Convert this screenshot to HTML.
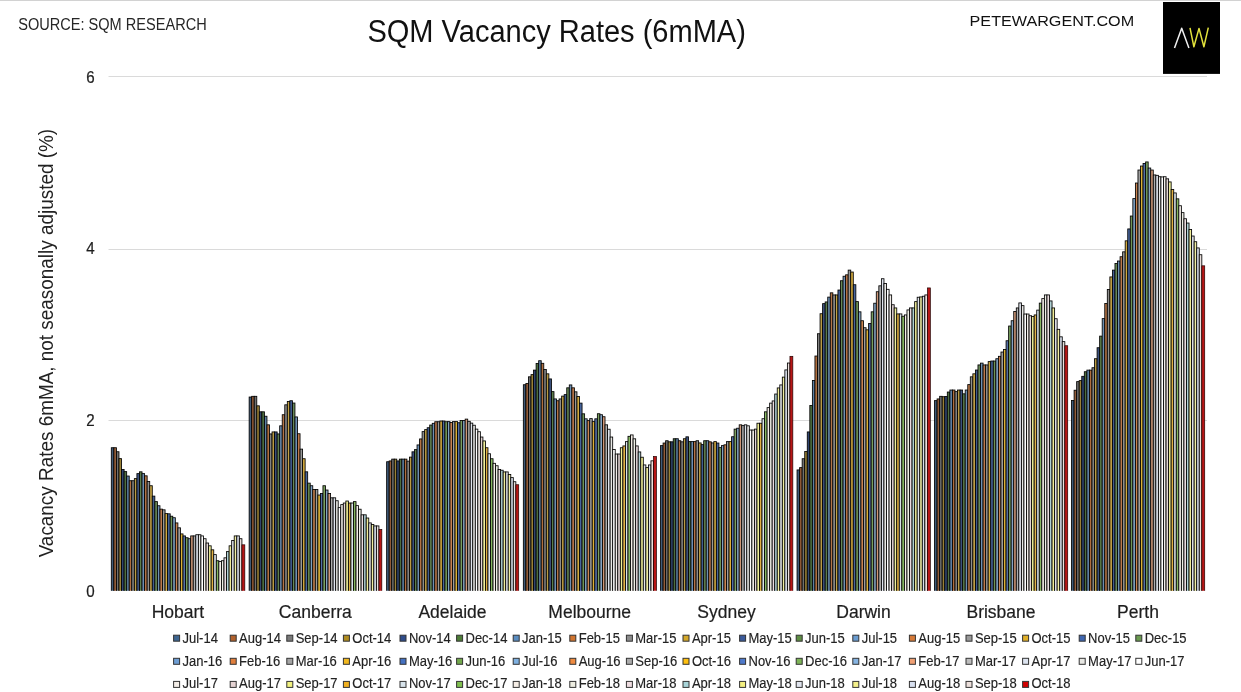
<!DOCTYPE html>
<html><head><meta charset="utf-8"><title>SQM Vacancy Rates (6mMA)</title>
<style>html,body{margin:0;padding:0;background:#fff;overflow:hidden;}svg{display:block;will-change:transform;}text{font-family:"Liberation Sans",Arial,sans-serif;}</style></head><body>
<svg width="1241" height="692" viewBox="0 0 1241 692">
<rect x="0" y="0" width="1241" height="692" fill="#fff"/>
<rect x="0" y="0" width="1241" height="1" fill="#d2d2d2"/>
<text id="t_source" x="18.20" y="29.70" font-size="15.6" fill="#262626" textLength="188.50" lengthAdjust="spacingAndGlyphs">SOURCE: SQM RESEARCH</text>
<text id="t_title" x="367.40" y="41.70" font-size="30.6" fill="#111" textLength="378.50" lengthAdjust="spacingAndGlyphs">SQM Vacancy Rates (6mMA)</text>
<text id="t_pete" x="969.60" y="25.70" font-size="15.4" fill="#111" textLength="164.50" lengthAdjust="spacingAndGlyphs">PETEWARGENT.COM</text>
<rect x="1163" y="2" width="57" height="71.9" fill="#000"/>
<polyline points="1174.5,47.9 1181.7,28.2 1188.9,47.9" fill="none" stroke="#f0f0f0" stroke-width="1.5" stroke-linejoin="round"/>
<polyline points="1190.0,27.8 1193.9,46.8 1199.0,28.4 1203.9,46.8 1208.3,27.7" fill="none" stroke="#e2e23c" stroke-width="1.5" stroke-linejoin="round"/>
<rect x="108.5" y="76" width="1098.5" height="1" fill="#dadada"/>
<rect x="108.5" y="249" width="1098.5" height="1" fill="#dadada"/>
<rect x="108.5" y="420" width="1098.5" height="1" fill="#dadada"/>
<text transform="translate(90.4,83.1) scale(0.88,1)" font-size="17.2" fill="#1e1e1e" stroke="#1e1e1e" stroke-width="0.25" text-anchor="middle">6</text>
<text transform="translate(90.4,254.3) scale(0.88,1)" font-size="17.2" fill="#1e1e1e" stroke="#1e1e1e" stroke-width="0.25" text-anchor="middle">4</text>
<text transform="translate(90.4,425.7) scale(0.88,1)" font-size="17.2" fill="#1e1e1e" stroke="#1e1e1e" stroke-width="0.25" text-anchor="middle">2</text>
<text transform="translate(90.4,596.9) scale(0.88,1)" font-size="17.2" fill="#1e1e1e" stroke="#1e1e1e" stroke-width="0.25" text-anchor="middle">0</text>
<text id="t_ytitle" transform="translate(53.10,343.10) rotate(-90)" font-size="19.4" fill="#222" text-anchor="middle" textLength="428.50" lengthAdjust="spacingAndGlyphs">Vacancy Rates 6mMA, not seasonally adjusted (%)</text>
<defs><clipPath id="cb"><rect x="0" y="0" width="1241" height="590.8"/></clipPath></defs>
<g stroke="#000" stroke-width="0.85" clip-path="url(#cb)">
<rect x="111.30" y="447.73" width="2.56" height="146.27" fill="#405b79"/>
<rect x="113.86" y="447.73" width="2.56" height="146.27" fill="#935c38"/>
<rect x="116.42" y="451.73" width="2.56" height="142.27" fill="#707070"/>
<rect x="118.98" y="458.62" width="2.56" height="135.38" fill="#9a8136"/>
<rect x="121.54" y="469.53" width="2.56" height="124.47" fill="#314670"/>
<rect x="124.11" y="471.62" width="2.56" height="122.38" fill="#4d6e3f"/>
<rect x="126.67" y="476.03" width="2.56" height="117.97" fill="#5c7fa3"/>
<rect x="129.23" y="480.73" width="2.56" height="113.27" fill="#af6f3f"/>
<rect x="131.79" y="480.73" width="2.56" height="113.27" fill="#818181"/>
<rect x="134.35" y="478.62" width="2.56" height="115.38" fill="#b99b43"/>
<rect x="136.91" y="473.62" width="2.56" height="120.38" fill="#3c527e"/>
<rect x="139.47" y="471.82" width="2.56" height="122.18" fill="#5c7d4b"/>
<rect x="142.03" y="473.62" width="2.56" height="120.38" fill="#6b8eb2"/>
<rect x="144.59" y="475.82" width="2.56" height="118.18" fill="#b47547"/>
<rect x="147.15" y="481.43" width="2.56" height="112.58" fill="#8d8d8d"/>
<rect x="149.72" y="485.73" width="2.56" height="108.27" fill="#c3a245"/>
<rect x="152.28" y="496.12" width="2.56" height="97.88" fill="#425d90"/>
<rect x="154.84" y="501.62" width="2.56" height="92.38" fill="#678856"/>
<rect x="157.40" y="505.73" width="2.56" height="88.27" fill="#6e90b4"/>
<rect x="159.96" y="509.12" width="2.56" height="84.88" fill="#bd794b"/>
<rect x="162.52" y="509.82" width="2.56" height="84.18" fill="#989898"/>
<rect x="165.08" y="513.62" width="2.56" height="80.37" fill="#d1a93f"/>
<rect x="167.64" y="513.82" width="2.56" height="80.18" fill="#48669d"/>
<rect x="170.20" y="516.22" width="2.56" height="77.78" fill="#6f9455"/>
<rect x="172.77" y="517.72" width="2.56" height="76.28" fill="#7da0c1"/>
<rect x="175.33" y="522.92" width="2.56" height="71.08" fill="#c98451"/>
<rect x="177.89" y="527.82" width="2.56" height="66.18" fill="#9d9d9d"/>
<rect x="180.45" y="533.92" width="2.56" height="60.08" fill="#dcb137"/>
<rect x="183.01" y="535.92" width="2.56" height="58.08" fill="#526fa7"/>
<rect x="185.57" y="537.72" width="2.56" height="56.28" fill="#799f5f"/>
<rect x="188.13" y="538.72" width="2.56" height="55.28" fill="#84a4c3"/>
<rect x="190.69" y="535.92" width="2.56" height="58.08" fill="#cf9879"/>
<rect x="193.25" y="535.92" width="2.56" height="58.08" fill="#aeaeae"/>
<rect x="195.81" y="534.72" width="2.56" height="59.28" fill="#dfe4ed"/>
<rect x="198.38" y="534.72" width="2.56" height="59.28" fill="#e8e8e5"/>
<rect x="200.94" y="535.92" width="2.56" height="58.08" fill="#ffffff"/>
<rect x="203.50" y="538.72" width="2.56" height="55.28" fill="#f3eeea"/>
<rect x="206.06" y="543.02" width="2.56" height="50.97" fill="#e3d5d5"/>
<rect x="208.62" y="545.82" width="2.56" height="48.18" fill="#efef99"/>
<rect x="211.18" y="549.82" width="2.56" height="44.18" fill="#e1b145"/>
<rect x="213.74" y="554.62" width="2.56" height="39.37" fill="#dae3e9"/>
<rect x="216.30" y="560.72" width="2.56" height="33.28" fill="#88b864"/>
<rect x="218.86" y="561.42" width="2.56" height="32.58" fill="#f4eee8"/>
<rect x="221.43" y="560.72" width="2.56" height="33.28" fill="#eeeee5"/>
<rect x="223.99" y="557.82" width="2.56" height="36.18" fill="#ebdde0"/>
<rect x="226.55" y="551.62" width="2.56" height="42.37" fill="#b0d1d4"/>
<rect x="229.11" y="545.82" width="2.56" height="48.18" fill="#f0ed99"/>
<rect x="231.67" y="540.42" width="2.56" height="53.58" fill="#e1e4eb"/>
<rect x="234.23" y="535.92" width="2.56" height="58.08" fill="#f0eda1"/>
<rect x="236.79" y="535.92" width="2.56" height="58.08" fill="#dae0ec"/>
<rect x="239.35" y="538.72" width="2.56" height="55.28" fill="#ebe1de"/>
<rect x="241.91" y="544.82" width="2.91" height="49.18" fill="#b81616" stroke="#200000" stroke-width="0.7"/>
<rect x="249.15" y="397.03" width="2.54" height="196.97" fill="#405b79"/>
<rect x="251.69" y="396.32" width="2.54" height="197.68" fill="#935c38"/>
<rect x="254.24" y="396.32" width="2.54" height="197.68" fill="#707070"/>
<rect x="256.78" y="405.82" width="2.54" height="188.18" fill="#9a8136"/>
<rect x="259.33" y="411.82" width="2.54" height="182.18" fill="#314670"/>
<rect x="261.87" y="411.82" width="2.54" height="182.18" fill="#4d6e3f"/>
<rect x="264.42" y="416.23" width="2.54" height="177.77" fill="#5c7fa3"/>
<rect x="266.96" y="424.82" width="2.54" height="169.18" fill="#af6f3f"/>
<rect x="269.51" y="433.93" width="2.54" height="160.07" fill="#818181"/>
<rect x="272.05" y="431.93" width="2.54" height="162.07" fill="#b99b43"/>
<rect x="274.60" y="431.93" width="2.54" height="162.07" fill="#3c527e"/>
<rect x="277.14" y="433.93" width="2.54" height="160.07" fill="#5c7d4b"/>
<rect x="279.69" y="425.82" width="2.54" height="168.18" fill="#6b8eb2"/>
<rect x="282.23" y="414.73" width="2.54" height="179.27" fill="#b47547"/>
<rect x="284.78" y="404.82" width="2.54" height="189.18" fill="#8d8d8d"/>
<rect x="287.32" y="401.53" width="2.54" height="192.47" fill="#c3a245"/>
<rect x="289.87" y="400.73" width="2.54" height="193.27" fill="#425d90"/>
<rect x="292.41" y="403.03" width="2.54" height="190.97" fill="#678856"/>
<rect x="294.95" y="416.93" width="2.54" height="177.07" fill="#6e90b4"/>
<rect x="297.50" y="433.73" width="2.54" height="160.27" fill="#bd794b"/>
<rect x="300.04" y="449.12" width="2.54" height="144.88" fill="#989898"/>
<rect x="302.59" y="458.73" width="2.54" height="135.27" fill="#d1a93f"/>
<rect x="305.13" y="471.82" width="2.54" height="122.18" fill="#48669d"/>
<rect x="307.68" y="483.12" width="2.54" height="110.88" fill="#6f9455"/>
<rect x="310.22" y="485.73" width="2.54" height="108.27" fill="#7da0c1"/>
<rect x="312.77" y="489.53" width="2.54" height="104.47" fill="#c98451"/>
<rect x="315.31" y="489.53" width="2.54" height="104.47" fill="#9d9d9d"/>
<rect x="317.86" y="495.03" width="2.54" height="98.97" fill="#dcb137"/>
<rect x="320.40" y="493.53" width="2.54" height="100.47" fill="#526fa7"/>
<rect x="322.95" y="485.73" width="2.54" height="108.27" fill="#799f5f"/>
<rect x="325.49" y="490.03" width="2.54" height="103.97" fill="#84a4c3"/>
<rect x="328.04" y="493.53" width="2.54" height="100.47" fill="#cf9879"/>
<rect x="330.58" y="497.82" width="2.54" height="96.18" fill="#aeaeae"/>
<rect x="333.13" y="497.82" width="2.54" height="96.18" fill="#dfe4ed"/>
<rect x="335.67" y="500.73" width="2.54" height="93.27" fill="#e8e8e5"/>
<rect x="338.21" y="507.62" width="2.54" height="86.38" fill="#ffffff"/>
<rect x="340.76" y="504.62" width="2.54" height="89.38" fill="#f3eeea"/>
<rect x="343.30" y="503.03" width="2.54" height="90.97" fill="#e3d5d5"/>
<rect x="345.85" y="501.03" width="2.54" height="92.97" fill="#efef99"/>
<rect x="348.39" y="503.03" width="2.54" height="90.97" fill="#e1b145"/>
<rect x="350.94" y="503.03" width="2.54" height="90.97" fill="#dae3e9"/>
<rect x="353.48" y="501.62" width="2.54" height="92.38" fill="#88b864"/>
<rect x="356.03" y="505.62" width="2.54" height="88.38" fill="#f4eee8"/>
<rect x="358.57" y="509.23" width="2.54" height="84.77" fill="#eeeee5"/>
<rect x="361.12" y="514.82" width="2.54" height="79.18" fill="#ebdde0"/>
<rect x="363.66" y="514.82" width="2.54" height="79.18" fill="#b0d1d4"/>
<rect x="366.21" y="518.02" width="2.54" height="75.97" fill="#f0ed99"/>
<rect x="368.75" y="522.92" width="2.54" height="71.08" fill="#e1e4eb"/>
<rect x="371.30" y="524.42" width="2.54" height="69.58" fill="#f0eda1"/>
<rect x="373.84" y="525.92" width="2.54" height="68.08" fill="#dae0ec"/>
<rect x="376.39" y="525.92" width="2.54" height="68.08" fill="#ebe1de"/>
<rect x="378.93" y="529.52" width="2.89" height="64.47" fill="#b81616" stroke="#200000" stroke-width="0.7"/>
<rect x="386.65" y="461.73" width="2.53" height="132.27" fill="#405b79"/>
<rect x="389.18" y="460.93" width="2.53" height="133.07" fill="#935c38"/>
<rect x="391.72" y="459.12" width="2.53" height="134.88" fill="#707070"/>
<rect x="394.25" y="459.12" width="2.53" height="134.88" fill="#9a8136"/>
<rect x="396.78" y="460.93" width="2.53" height="133.07" fill="#314670"/>
<rect x="399.32" y="459.12" width="2.53" height="134.88" fill="#4d6e3f"/>
<rect x="401.85" y="459.12" width="2.53" height="134.88" fill="#5c7fa3"/>
<rect x="404.38" y="459.12" width="2.53" height="134.88" fill="#af6f3f"/>
<rect x="406.92" y="461.12" width="2.53" height="132.88" fill="#818181"/>
<rect x="409.45" y="457.12" width="2.53" height="136.88" fill="#b99b43"/>
<rect x="411.98" y="451.82" width="2.53" height="142.18" fill="#3c527e"/>
<rect x="414.51" y="449.62" width="2.53" height="144.38" fill="#5c7d4b"/>
<rect x="417.05" y="444.93" width="2.53" height="149.07" fill="#6b8eb2"/>
<rect x="419.58" y="438.93" width="2.53" height="155.07" fill="#b47547"/>
<rect x="422.11" y="431.62" width="2.53" height="162.38" fill="#8d8d8d"/>
<rect x="424.65" y="429.62" width="2.53" height="164.38" fill="#c3a245"/>
<rect x="427.18" y="427.73" width="2.53" height="166.27" fill="#425d90"/>
<rect x="429.71" y="425.03" width="2.53" height="168.97" fill="#678856"/>
<rect x="432.25" y="423.32" width="2.53" height="170.68" fill="#6e90b4"/>
<rect x="434.78" y="421.73" width="2.53" height="172.27" fill="#bd794b"/>
<rect x="437.31" y="421.73" width="2.53" height="172.27" fill="#989898"/>
<rect x="439.85" y="421.03" width="2.53" height="172.97" fill="#d1a93f"/>
<rect x="442.38" y="421.03" width="2.53" height="172.97" fill="#48669d"/>
<rect x="444.91" y="421.73" width="2.53" height="172.27" fill="#6f9455"/>
<rect x="447.45" y="421.62" width="2.53" height="172.38" fill="#7da0c1"/>
<rect x="449.98" y="422.43" width="2.53" height="171.57" fill="#c98451"/>
<rect x="452.51" y="421.62" width="2.53" height="172.38" fill="#9d9d9d"/>
<rect x="455.05" y="421.62" width="2.53" height="172.38" fill="#dcb137"/>
<rect x="457.58" y="422.73" width="2.53" height="171.27" fill="#526fa7"/>
<rect x="460.11" y="420.53" width="2.53" height="173.47" fill="#799f5f"/>
<rect x="462.65" y="420.53" width="2.53" height="173.47" fill="#84a4c3"/>
<rect x="465.18" y="419.12" width="2.53" height="174.88" fill="#cf9879"/>
<rect x="467.71" y="421.32" width="2.53" height="172.68" fill="#aeaeae"/>
<rect x="470.24" y="423.12" width="2.53" height="170.88" fill="#dfe4ed"/>
<rect x="472.78" y="425.23" width="2.53" height="168.77" fill="#e8e8e5"/>
<rect x="475.31" y="429.12" width="2.53" height="164.88" fill="#ffffff"/>
<rect x="477.84" y="431.73" width="2.53" height="162.27" fill="#f3eeea"/>
<rect x="480.38" y="437.03" width="2.53" height="156.97" fill="#e3d5d5"/>
<rect x="482.91" y="440.93" width="2.53" height="153.07" fill="#efef99"/>
<rect x="485.44" y="447.73" width="2.53" height="146.27" fill="#e1b145"/>
<rect x="487.98" y="453.73" width="2.53" height="140.27" fill="#dae3e9"/>
<rect x="490.51" y="458.73" width="2.53" height="135.27" fill="#88b864"/>
<rect x="493.04" y="463.32" width="2.53" height="130.68" fill="#f4eee8"/>
<rect x="495.58" y="465.73" width="2.53" height="128.27" fill="#eeeee5"/>
<rect x="498.11" y="469.43" width="2.53" height="124.58" fill="#ebdde0"/>
<rect x="500.64" y="470.23" width="2.53" height="123.77" fill="#b0d1d4"/>
<rect x="503.18" y="471.93" width="2.53" height="122.08" fill="#f0ed99"/>
<rect x="505.71" y="471.93" width="2.53" height="122.08" fill="#e1e4eb"/>
<rect x="508.24" y="474.53" width="2.53" height="119.47" fill="#f0eda1"/>
<rect x="510.78" y="477.62" width="2.53" height="116.38" fill="#dae0ec"/>
<rect x="513.31" y="481.73" width="2.53" height="112.27" fill="#ebe1de"/>
<rect x="515.84" y="484.73" width="2.88" height="109.27" fill="#b81616" stroke="#200000" stroke-width="0.7"/>
<rect x="523.35" y="384.73" width="2.55" height="209.27" fill="#405b79"/>
<rect x="525.90" y="383.53" width="2.55" height="210.47" fill="#935c38"/>
<rect x="528.45" y="376.82" width="2.55" height="217.18" fill="#707070"/>
<rect x="531.01" y="374.62" width="2.55" height="219.38" fill="#9a8136"/>
<rect x="533.56" y="370.12" width="2.55" height="223.88" fill="#314670"/>
<rect x="536.11" y="363.53" width="2.55" height="230.47" fill="#4d6e3f"/>
<rect x="538.66" y="360.73" width="2.55" height="233.27" fill="#5c7fa3"/>
<rect x="541.22" y="363.32" width="2.55" height="230.68" fill="#af6f3f"/>
<rect x="543.77" y="369.43" width="2.55" height="224.57" fill="#818181"/>
<rect x="546.32" y="373.82" width="2.55" height="220.18" fill="#b99b43"/>
<rect x="548.87" y="378.93" width="2.55" height="215.07" fill="#3c527e"/>
<rect x="551.43" y="391.62" width="2.55" height="202.38" fill="#5c7d4b"/>
<rect x="553.98" y="398.93" width="2.55" height="195.07" fill="#6b8eb2"/>
<rect x="556.53" y="400.73" width="2.55" height="193.27" fill="#b47547"/>
<rect x="559.08" y="398.93" width="2.55" height="195.07" fill="#8d8d8d"/>
<rect x="561.64" y="396.12" width="2.55" height="197.88" fill="#c3a245"/>
<rect x="564.19" y="394.62" width="2.55" height="199.38" fill="#425d90"/>
<rect x="566.74" y="387.82" width="2.55" height="206.18" fill="#678856"/>
<rect x="569.29" y="384.93" width="2.55" height="209.07" fill="#6e90b4"/>
<rect x="571.85" y="387.82" width="2.55" height="206.18" fill="#bd794b"/>
<rect x="574.40" y="391.82" width="2.55" height="202.18" fill="#989898"/>
<rect x="576.95" y="396.43" width="2.55" height="197.57" fill="#d1a93f"/>
<rect x="579.50" y="403.12" width="2.55" height="190.88" fill="#48669d"/>
<rect x="582.06" y="413.82" width="2.55" height="180.18" fill="#6f9455"/>
<rect x="584.61" y="418.82" width="2.55" height="175.18" fill="#7da0c1"/>
<rect x="587.16" y="420.62" width="2.55" height="173.38" fill="#c98451"/>
<rect x="589.71" y="418.62" width="2.55" height="175.38" fill="#9d9d9d"/>
<rect x="592.26" y="421.62" width="2.55" height="172.38" fill="#dcb137"/>
<rect x="594.82" y="418.82" width="2.55" height="175.18" fill="#526fa7"/>
<rect x="597.37" y="413.73" width="2.55" height="180.27" fill="#799f5f"/>
<rect x="599.92" y="414.73" width="2.55" height="179.27" fill="#84a4c3"/>
<rect x="602.47" y="416.73" width="2.55" height="177.27" fill="#cf9879"/>
<rect x="605.03" y="424.82" width="2.55" height="169.18" fill="#aeaeae"/>
<rect x="607.58" y="429.23" width="2.55" height="164.77" fill="#dfe4ed"/>
<rect x="610.13" y="437.03" width="2.55" height="156.97" fill="#e8e8e5"/>
<rect x="612.68" y="449.43" width="2.55" height="144.57" fill="#ffffff"/>
<rect x="615.24" y="454.03" width="2.55" height="139.97" fill="#f3eeea"/>
<rect x="617.79" y="454.03" width="2.55" height="139.97" fill="#e3d5d5"/>
<rect x="620.34" y="447.73" width="2.55" height="146.27" fill="#efef99"/>
<rect x="622.89" y="445.93" width="2.55" height="148.07" fill="#e1b145"/>
<rect x="625.45" y="441.62" width="2.55" height="152.38" fill="#dae3e9"/>
<rect x="628.00" y="436.32" width="2.55" height="157.68" fill="#88b864"/>
<rect x="630.55" y="434.93" width="2.55" height="159.07" fill="#f4eee8"/>
<rect x="633.10" y="438.82" width="2.55" height="155.18" fill="#eeeee5"/>
<rect x="635.66" y="445.93" width="2.55" height="148.07" fill="#ebdde0"/>
<rect x="638.21" y="451.93" width="2.55" height="142.07" fill="#b0d1d4"/>
<rect x="640.76" y="457.23" width="2.55" height="136.77" fill="#f0ed99"/>
<rect x="643.31" y="464.93" width="2.55" height="129.07" fill="#e1e4eb"/>
<rect x="645.87" y="467.62" width="2.55" height="126.38" fill="#f0eda1"/>
<rect x="648.42" y="464.93" width="2.55" height="129.07" fill="#dae0ec"/>
<rect x="650.97" y="460.82" width="2.55" height="133.18" fill="#ebe1de"/>
<rect x="653.52" y="456.53" width="2.90" height="137.47" fill="#b81616" stroke="#200000" stroke-width="0.7"/>
<rect x="660.55" y="445.62" width="2.54" height="148.38" fill="#405b79"/>
<rect x="663.09" y="443.03" width="2.54" height="150.97" fill="#935c38"/>
<rect x="665.62" y="440.73" width="2.54" height="153.27" fill="#707070"/>
<rect x="668.16" y="441.82" width="2.54" height="152.18" fill="#9a8136"/>
<rect x="670.70" y="441.82" width="2.54" height="152.18" fill="#314670"/>
<rect x="673.24" y="438.73" width="2.54" height="155.27" fill="#4d6e3f"/>
<rect x="675.77" y="438.73" width="2.54" height="155.27" fill="#5c7fa3"/>
<rect x="678.31" y="440.73" width="2.54" height="153.27" fill="#af6f3f"/>
<rect x="680.85" y="441.82" width="2.54" height="152.18" fill="#818181"/>
<rect x="683.38" y="438.73" width="2.54" height="155.27" fill="#b99b43"/>
<rect x="685.92" y="436.82" width="2.54" height="157.18" fill="#3c527e"/>
<rect x="688.46" y="441.62" width="2.54" height="152.38" fill="#5c7d4b"/>
<rect x="690.99" y="441.62" width="2.54" height="152.38" fill="#6b8eb2"/>
<rect x="693.53" y="441.62" width="2.54" height="152.38" fill="#b47547"/>
<rect x="696.07" y="440.73" width="2.54" height="153.27" fill="#8d8d8d"/>
<rect x="698.61" y="442.93" width="2.54" height="151.07" fill="#c3a245"/>
<rect x="701.14" y="444.62" width="2.54" height="149.38" fill="#425d90"/>
<rect x="703.68" y="440.73" width="2.54" height="153.27" fill="#678856"/>
<rect x="706.22" y="440.73" width="2.54" height="153.27" fill="#6e90b4"/>
<rect x="708.75" y="441.82" width="2.54" height="152.18" fill="#bd794b"/>
<rect x="711.29" y="442.93" width="2.54" height="151.07" fill="#989898"/>
<rect x="713.83" y="441.62" width="2.54" height="152.38" fill="#d1a93f"/>
<rect x="716.36" y="443.03" width="2.54" height="150.97" fill="#48669d"/>
<rect x="718.90" y="447.62" width="2.54" height="146.38" fill="#6f9455"/>
<rect x="721.44" y="445.62" width="2.54" height="148.38" fill="#7da0c1"/>
<rect x="723.98" y="444.82" width="2.54" height="149.18" fill="#c98451"/>
<rect x="726.51" y="441.62" width="2.54" height="152.38" fill="#9d9d9d"/>
<rect x="729.05" y="441.62" width="2.54" height="152.38" fill="#dcb137"/>
<rect x="731.59" y="436.73" width="2.54" height="157.27" fill="#526fa7"/>
<rect x="734.12" y="429.12" width="2.54" height="164.88" fill="#799f5f"/>
<rect x="736.66" y="428.23" width="2.54" height="165.77" fill="#84a4c3"/>
<rect x="739.20" y="424.82" width="2.54" height="169.18" fill="#cf9879"/>
<rect x="741.73" y="425.62" width="2.54" height="168.38" fill="#aeaeae"/>
<rect x="744.27" y="424.82" width="2.54" height="169.18" fill="#dfe4ed"/>
<rect x="746.81" y="425.82" width="2.54" height="168.18" fill="#e8e8e5"/>
<rect x="749.35" y="430.03" width="2.54" height="163.97" fill="#ffffff"/>
<rect x="751.88" y="430.03" width="2.54" height="163.97" fill="#f3eeea"/>
<rect x="754.42" y="429.12" width="2.54" height="164.88" fill="#e3d5d5"/>
<rect x="756.96" y="423.23" width="2.54" height="170.77" fill="#efef99"/>
<rect x="759.49" y="423.23" width="2.54" height="170.77" fill="#e1b145"/>
<rect x="762.03" y="418.73" width="2.54" height="175.27" fill="#dae3e9"/>
<rect x="764.57" y="411.82" width="2.54" height="182.18" fill="#88b864"/>
<rect x="767.10" y="407.62" width="2.54" height="186.38" fill="#f4eee8"/>
<rect x="769.64" y="403.12" width="2.54" height="190.88" fill="#eeeee5"/>
<rect x="772.18" y="400.93" width="2.54" height="193.07" fill="#ebdde0"/>
<rect x="774.72" y="394.03" width="2.54" height="199.97" fill="#b0d1d4"/>
<rect x="777.25" y="387.93" width="2.54" height="206.07" fill="#f0ed99"/>
<rect x="779.79" y="384.93" width="2.54" height="209.07" fill="#e1e4eb"/>
<rect x="782.33" y="377.12" width="2.54" height="216.88" fill="#f0eda1"/>
<rect x="784.86" y="369.93" width="2.54" height="224.07" fill="#dae0ec"/>
<rect x="787.40" y="363.03" width="2.54" height="230.97" fill="#ebe1de"/>
<rect x="789.94" y="356.32" width="2.89" height="237.68" fill="#b81616" stroke="#200000" stroke-width="0.7"/>
<rect x="797.05" y="469.93" width="2.56" height="124.08" fill="#405b79"/>
<rect x="799.61" y="467.62" width="2.56" height="126.38" fill="#935c38"/>
<rect x="802.16" y="458.73" width="2.56" height="135.27" fill="#707070"/>
<rect x="804.72" y="451.53" width="2.56" height="142.47" fill="#9a8136"/>
<rect x="807.28" y="431.93" width="2.56" height="162.07" fill="#314670"/>
<rect x="809.83" y="405.53" width="2.56" height="188.47" fill="#4d6e3f"/>
<rect x="812.39" y="380.43" width="2.56" height="213.57" fill="#5c7fa3"/>
<rect x="814.94" y="356.03" width="2.56" height="237.97" fill="#af6f3f"/>
<rect x="817.50" y="333.73" width="2.56" height="260.27" fill="#818181"/>
<rect x="820.06" y="313.73" width="2.56" height="280.27" fill="#b99b43"/>
<rect x="822.61" y="303.62" width="2.56" height="290.38" fill="#3c527e"/>
<rect x="825.17" y="301.93" width="2.56" height="292.07" fill="#5c7d4b"/>
<rect x="827.73" y="297.12" width="2.56" height="296.88" fill="#6b8eb2"/>
<rect x="830.28" y="292.82" width="2.56" height="301.18" fill="#b47547"/>
<rect x="832.84" y="294.93" width="2.56" height="299.07" fill="#8d8d8d"/>
<rect x="835.39" y="294.93" width="2.56" height="299.07" fill="#c3a245"/>
<rect x="837.95" y="290.03" width="2.56" height="303.97" fill="#425d90"/>
<rect x="840.51" y="280.73" width="2.56" height="313.27" fill="#678856"/>
<rect x="843.06" y="276.23" width="2.56" height="317.77" fill="#6e90b4"/>
<rect x="845.62" y="274.82" width="2.56" height="319.18" fill="#bd794b"/>
<rect x="848.18" y="270.12" width="2.56" height="323.88" fill="#989898"/>
<rect x="850.73" y="272.03" width="2.56" height="321.97" fill="#d1a93f"/>
<rect x="853.29" y="284.73" width="2.56" height="309.27" fill="#48669d"/>
<rect x="855.84" y="301.62" width="2.56" height="292.38" fill="#6f9455"/>
<rect x="858.40" y="311.82" width="2.56" height="282.18" fill="#7da0c1"/>
<rect x="860.96" y="320.73" width="2.56" height="273.27" fill="#c98451"/>
<rect x="863.51" y="327.73" width="2.56" height="266.27" fill="#9d9d9d"/>
<rect x="866.07" y="329.82" width="2.56" height="264.18" fill="#dcb137"/>
<rect x="868.62" y="323.43" width="2.56" height="270.57" fill="#526fa7"/>
<rect x="871.18" y="311.82" width="2.56" height="282.18" fill="#799f5f"/>
<rect x="873.74" y="303.23" width="2.56" height="290.77" fill="#84a4c3"/>
<rect x="876.29" y="291.73" width="2.56" height="302.27" fill="#cf9879"/>
<rect x="878.85" y="285.82" width="2.56" height="308.18" fill="#aeaeae"/>
<rect x="881.41" y="278.73" width="2.56" height="315.27" fill="#dfe4ed"/>
<rect x="883.96" y="283.43" width="2.56" height="310.57" fill="#e8e8e5"/>
<rect x="886.52" y="289.32" width="2.56" height="304.68" fill="#ffffff"/>
<rect x="889.08" y="294.93" width="2.56" height="299.07" fill="#f3eeea"/>
<rect x="891.63" y="304.73" width="2.56" height="289.27" fill="#e3d5d5"/>
<rect x="894.19" y="307.93" width="2.56" height="286.07" fill="#efef99"/>
<rect x="896.74" y="313.93" width="2.56" height="280.07" fill="#e1b145"/>
<rect x="899.30" y="313.93" width="2.56" height="280.07" fill="#dae3e9"/>
<rect x="901.86" y="316.23" width="2.56" height="277.77" fill="#88b864"/>
<rect x="904.41" y="314.93" width="2.56" height="279.07" fill="#f4eee8"/>
<rect x="906.97" y="309.93" width="2.56" height="284.07" fill="#eeeee5"/>
<rect x="909.52" y="307.93" width="2.56" height="286.07" fill="#ebdde0"/>
<rect x="912.08" y="307.93" width="2.56" height="286.07" fill="#b0d1d4"/>
<rect x="914.64" y="301.62" width="2.56" height="292.38" fill="#f0ed99"/>
<rect x="917.19" y="297.23" width="2.56" height="296.77" fill="#e1e4eb"/>
<rect x="919.75" y="296.93" width="2.56" height="297.07" fill="#f0eda1"/>
<rect x="922.31" y="296.23" width="2.56" height="297.77" fill="#dae0ec"/>
<rect x="924.86" y="294.93" width="2.56" height="299.07" fill="#ebe1de"/>
<rect x="927.42" y="287.93" width="2.91" height="306.07" fill="#b81616" stroke="#200000" stroke-width="0.7"/>
<rect x="934.55" y="400.62" width="2.55" height="193.38" fill="#405b79"/>
<rect x="937.10" y="398.93" width="2.55" height="195.07" fill="#935c38"/>
<rect x="939.66" y="396.32" width="2.55" height="197.68" fill="#707070"/>
<rect x="942.21" y="396.73" width="2.55" height="197.27" fill="#9a8136"/>
<rect x="944.77" y="396.53" width="2.55" height="197.47" fill="#314670"/>
<rect x="947.32" y="392.03" width="2.55" height="201.97" fill="#4d6e3f"/>
<rect x="949.88" y="390.03" width="2.55" height="203.97" fill="#5c7fa3"/>
<rect x="952.43" y="390.03" width="2.55" height="203.97" fill="#af6f3f"/>
<rect x="954.98" y="391.62" width="2.55" height="202.38" fill="#818181"/>
<rect x="957.54" y="390.03" width="2.55" height="203.97" fill="#b99b43"/>
<rect x="960.09" y="390.03" width="2.55" height="203.97" fill="#3c527e"/>
<rect x="962.65" y="393.82" width="2.55" height="200.18" fill="#5c7d4b"/>
<rect x="965.20" y="390.03" width="2.55" height="203.97" fill="#6b8eb2"/>
<rect x="967.76" y="384.62" width="2.55" height="209.38" fill="#b47547"/>
<rect x="970.31" y="376.82" width="2.55" height="217.18" fill="#8d8d8d"/>
<rect x="972.86" y="373.82" width="2.55" height="220.18" fill="#c3a245"/>
<rect x="975.42" y="370.03" width="2.55" height="223.97" fill="#425d90"/>
<rect x="977.97" y="364.93" width="2.55" height="229.07" fill="#678856"/>
<rect x="980.53" y="363.12" width="2.55" height="230.88" fill="#6e90b4"/>
<rect x="983.08" y="364.93" width="2.55" height="229.07" fill="#bd794b"/>
<rect x="985.64" y="364.93" width="2.55" height="229.07" fill="#989898"/>
<rect x="988.19" y="361.62" width="2.55" height="232.38" fill="#d1a93f"/>
<rect x="990.75" y="361.03" width="2.55" height="232.97" fill="#48669d"/>
<rect x="993.30" y="361.03" width="2.55" height="232.97" fill="#6f9455"/>
<rect x="995.85" y="358.73" width="2.55" height="235.27" fill="#7da0c1"/>
<rect x="998.41" y="356.32" width="2.55" height="237.68" fill="#c98451"/>
<rect x="1000.96" y="352.03" width="2.55" height="241.97" fill="#9d9d9d"/>
<rect x="1003.52" y="349.43" width="2.55" height="244.57" fill="#dcb137"/>
<rect x="1006.07" y="340.73" width="2.55" height="253.27" fill="#526fa7"/>
<rect x="1008.63" y="326.03" width="2.55" height="267.97" fill="#799f5f"/>
<rect x="1011.18" y="320.73" width="2.55" height="273.27" fill="#84a4c3"/>
<rect x="1013.73" y="311.53" width="2.55" height="282.47" fill="#cf9879"/>
<rect x="1016.29" y="307.93" width="2.55" height="286.07" fill="#aeaeae"/>
<rect x="1018.84" y="302.93" width="2.55" height="291.07" fill="#dfe4ed"/>
<rect x="1021.40" y="305.62" width="2.55" height="288.38" fill="#e8e8e5"/>
<rect x="1023.95" y="314.03" width="2.55" height="279.97" fill="#ffffff"/>
<rect x="1026.51" y="314.03" width="2.55" height="279.97" fill="#f3eeea"/>
<rect x="1029.06" y="315.73" width="2.55" height="278.27" fill="#e3d5d5"/>
<rect x="1031.61" y="316.43" width="2.55" height="277.57" fill="#efef99"/>
<rect x="1034.17" y="314.93" width="2.55" height="279.07" fill="#e1b145"/>
<rect x="1036.72" y="310.12" width="2.55" height="283.88" fill="#dae3e9"/>
<rect x="1039.28" y="303.12" width="2.55" height="290.88" fill="#88b864"/>
<rect x="1041.83" y="298.62" width="2.55" height="295.38" fill="#f4eee8"/>
<rect x="1044.39" y="294.93" width="2.55" height="299.07" fill="#eeeee5"/>
<rect x="1046.94" y="294.93" width="2.55" height="299.07" fill="#ebdde0"/>
<rect x="1049.49" y="300.93" width="2.55" height="293.07" fill="#b0d1d4"/>
<rect x="1052.05" y="307.93" width="2.55" height="286.07" fill="#f0ed99"/>
<rect x="1054.60" y="318.73" width="2.55" height="275.27" fill="#e1e4eb"/>
<rect x="1057.16" y="329.32" width="2.55" height="264.68" fill="#f0eda1"/>
<rect x="1059.71" y="336.82" width="2.55" height="257.18" fill="#dae0ec"/>
<rect x="1062.27" y="341.62" width="2.55" height="252.38" fill="#ebe1de"/>
<rect x="1064.82" y="345.73" width="2.90" height="248.27" fill="#b81616" stroke="#200000" stroke-width="0.7"/>
<rect x="1071.55" y="400.53" width="2.55" height="193.47" fill="#405b79"/>
<rect x="1074.10" y="390.23" width="2.55" height="203.77" fill="#935c38"/>
<rect x="1076.66" y="381.62" width="2.55" height="212.38" fill="#707070"/>
<rect x="1079.21" y="380.62" width="2.55" height="213.38" fill="#9a8136"/>
<rect x="1081.77" y="376.32" width="2.55" height="217.68" fill="#314670"/>
<rect x="1084.32" y="371.73" width="2.55" height="222.27" fill="#4d6e3f"/>
<rect x="1086.88" y="370.12" width="2.55" height="223.88" fill="#5c7fa3"/>
<rect x="1089.43" y="370.12" width="2.55" height="223.88" fill="#af6f3f"/>
<rect x="1091.98" y="367.73" width="2.55" height="226.27" fill="#818181"/>
<rect x="1094.54" y="358.73" width="2.55" height="235.27" fill="#b99b43"/>
<rect x="1097.09" y="347.73" width="2.55" height="246.27" fill="#3c527e"/>
<rect x="1099.65" y="336.12" width="2.55" height="257.88" fill="#5c7d4b"/>
<rect x="1102.20" y="318.62" width="2.55" height="275.38" fill="#6b8eb2"/>
<rect x="1104.76" y="303.43" width="2.55" height="290.57" fill="#b47547"/>
<rect x="1107.31" y="289.43" width="2.55" height="304.57" fill="#8d8d8d"/>
<rect x="1109.86" y="276.93" width="2.55" height="317.07" fill="#c3a245"/>
<rect x="1112.42" y="270.12" width="2.55" height="323.88" fill="#425d90"/>
<rect x="1114.97" y="263.43" width="2.55" height="330.57" fill="#678856"/>
<rect x="1117.53" y="261.03" width="2.55" height="332.97" fill="#6e90b4"/>
<rect x="1120.08" y="256.73" width="2.55" height="337.27" fill="#bd794b"/>
<rect x="1122.64" y="251.83" width="2.55" height="342.18" fill="#989898"/>
<rect x="1125.19" y="240.83" width="2.55" height="353.18" fill="#d1a93f"/>
<rect x="1127.75" y="228.93" width="2.55" height="365.07" fill="#48669d"/>
<rect x="1130.30" y="216.03" width="2.55" height="377.97" fill="#6f9455"/>
<rect x="1132.85" y="198.62" width="2.55" height="395.38" fill="#7da0c1"/>
<rect x="1135.41" y="183.03" width="2.55" height="410.97" fill="#c98451"/>
<rect x="1137.96" y="170.03" width="2.55" height="423.97" fill="#9d9d9d"/>
<rect x="1140.52" y="166.03" width="2.55" height="427.97" fill="#dcb137"/>
<rect x="1143.07" y="163.43" width="2.55" height="430.57" fill="#526fa7"/>
<rect x="1145.63" y="161.93" width="2.55" height="432.07" fill="#799f5f"/>
<rect x="1148.18" y="168.03" width="2.55" height="425.97" fill="#84a4c3"/>
<rect x="1150.73" y="170.03" width="2.55" height="423.97" fill="#cf9879"/>
<rect x="1153.29" y="174.93" width="2.55" height="419.07" fill="#aeaeae"/>
<rect x="1155.84" y="175.33" width="2.55" height="418.68" fill="#dfe4ed"/>
<rect x="1158.40" y="176.73" width="2.55" height="417.27" fill="#e8e8e5"/>
<rect x="1160.95" y="176.93" width="2.55" height="417.07" fill="#ffffff"/>
<rect x="1163.51" y="176.73" width="2.55" height="417.27" fill="#f3eeea"/>
<rect x="1166.06" y="178.83" width="2.55" height="415.18" fill="#e3d5d5"/>
<rect x="1168.61" y="181.93" width="2.55" height="412.07" fill="#efef99"/>
<rect x="1171.17" y="189.43" width="2.55" height="404.57" fill="#e1b145"/>
<rect x="1173.72" y="192.93" width="2.55" height="401.07" fill="#dae3e9"/>
<rect x="1176.28" y="198.83" width="2.55" height="395.18" fill="#88b864"/>
<rect x="1178.83" y="205.73" width="2.55" height="388.27" fill="#f4eee8"/>
<rect x="1181.39" y="212.62" width="2.55" height="381.38" fill="#eeeee5"/>
<rect x="1183.94" y="218.73" width="2.55" height="375.27" fill="#ebdde0"/>
<rect x="1186.49" y="223.03" width="2.55" height="370.97" fill="#b0d1d4"/>
<rect x="1189.05" y="229.53" width="2.55" height="364.47" fill="#f0ed99"/>
<rect x="1191.60" y="236.03" width="2.55" height="357.97" fill="#e1e4eb"/>
<rect x="1194.16" y="241.73" width="2.55" height="352.27" fill="#f0eda1"/>
<rect x="1196.71" y="247.93" width="2.55" height="346.07" fill="#dae0ec"/>
<rect x="1199.27" y="254.73" width="2.55" height="339.27" fill="#ebe1de"/>
<rect x="1201.82" y="265.82" width="2.90" height="328.18" fill="#b81616" stroke="#200000" stroke-width="0.7"/>
</g>
<text x="177.9" y="617.7" font-size="17.5" fill="#1e1e1e" stroke="#1e1e1e" stroke-width="0.2" text-anchor="middle">Hobart</text>
<text x="315.3" y="617.7" font-size="17.5" fill="#1e1e1e" stroke="#1e1e1e" stroke-width="0.2" text-anchor="middle">Canberra</text>
<text x="452.5" y="617.7" font-size="17.5" fill="#1e1e1e" stroke="#1e1e1e" stroke-width="0.2" text-anchor="middle">Adelaide</text>
<text x="589.7" y="617.7" font-size="17.5" fill="#1e1e1e" stroke="#1e1e1e" stroke-width="0.2" text-anchor="middle">Melbourne</text>
<text x="726.5" y="617.7" font-size="17.5" fill="#1e1e1e" stroke="#1e1e1e" stroke-width="0.2" text-anchor="middle">Sydney</text>
<text x="863.5" y="617.7" font-size="17.5" fill="#1e1e1e" stroke="#1e1e1e" stroke-width="0.2" text-anchor="middle">Darwin</text>
<text x="1001.0" y="617.7" font-size="17.5" fill="#1e1e1e" stroke="#1e1e1e" stroke-width="0.2" text-anchor="middle">Brisbane</text>
<text x="1138.0" y="617.7" font-size="17.5" fill="#1e1e1e" stroke="#1e1e1e" stroke-width="0.2" text-anchor="middle">Perth</text>
<rect x="173.6" y="635.2" width="6" height="6" fill="#3E6590" stroke="#333" stroke-width="1"/>
<text transform="translate(182.5,642.60) scale(1,1.07)" font-size="13" fill="#222" stroke="#222" stroke-width="0.15">Jul-14</text>
<rect x="230.2" y="635.2" width="6" height="6" fill="#B0602C" stroke="#333" stroke-width="1"/>
<text transform="translate(239.1,642.60) scale(1,1.07)" font-size="13" fill="#222" stroke="#222" stroke-width="0.15">Aug-14</text>
<rect x="286.8" y="635.2" width="6" height="6" fill="#7A7A7A" stroke="#333" stroke-width="1"/>
<text transform="translate(295.7,642.60) scale(1,1.07)" font-size="13" fill="#222" stroke="#222" stroke-width="0.15">Sep-14</text>
<rect x="343.4" y="635.2" width="6" height="6" fill="#B08C20" stroke="#333" stroke-width="1"/>
<text transform="translate(352.3,642.60) scale(1,1.07)" font-size="13" fill="#222" stroke="#222" stroke-width="0.15">Oct-14</text>
<rect x="400.0" y="635.2" width="6" height="6" fill="#2E4C8A" stroke="#333" stroke-width="1"/>
<text transform="translate(408.9,642.60) scale(1,1.07)" font-size="13" fill="#222" stroke="#222" stroke-width="0.15">Nov-14</text>
<rect x="456.6" y="635.2" width="6" height="6" fill="#4E7D38" stroke="#333" stroke-width="1"/>
<text transform="translate(465.5,642.60) scale(1,1.07)" font-size="13" fill="#222" stroke="#222" stroke-width="0.15">Dec-14</text>
<rect x="513.2" y="635.2" width="6" height="6" fill="#5A8CC0" stroke="#333" stroke-width="1"/>
<text transform="translate(522.1,642.60) scale(1,1.07)" font-size="13" fill="#222" stroke="#222" stroke-width="0.15">Jan-15</text>
<rect x="569.8" y="635.2" width="6" height="6" fill="#D0742E" stroke="#333" stroke-width="1"/>
<text transform="translate(578.7,642.60) scale(1,1.07)" font-size="13" fill="#222" stroke="#222" stroke-width="0.15">Feb-15</text>
<rect x="626.4" y="635.2" width="6" height="6" fill="#8C8C8C" stroke="#333" stroke-width="1"/>
<text transform="translate(635.3,642.60) scale(1,1.07)" font-size="13" fill="#222" stroke="#222" stroke-width="0.15">Mar-15</text>
<rect x="683.0" y="635.2" width="6" height="6" fill="#D4A82A" stroke="#333" stroke-width="1"/>
<text transform="translate(691.9,642.60) scale(1,1.07)" font-size="13" fill="#222" stroke="#222" stroke-width="0.15">Apr-15</text>
<rect x="739.6" y="635.2" width="6" height="6" fill="#3A5A9A" stroke="#333" stroke-width="1"/>
<text transform="translate(748.5,642.60) scale(1,1.07)" font-size="13" fill="#222" stroke="#222" stroke-width="0.15">May-15</text>
<rect x="796.2" y="635.2" width="6" height="6" fill="#5E8E44" stroke="#333" stroke-width="1"/>
<text transform="translate(805.1,642.60) scale(1,1.07)" font-size="13" fill="#222" stroke="#222" stroke-width="0.15">Jun-15</text>
<rect x="852.8" y="635.2" width="6" height="6" fill="#6A9CD0" stroke="#333" stroke-width="1"/>
<text transform="translate(861.7,642.60) scale(1,1.07)" font-size="13" fill="#222" stroke="#222" stroke-width="0.15">Jul-15</text>
<rect x="909.4" y="635.2" width="6" height="6" fill="#D67A38" stroke="#333" stroke-width="1"/>
<text transform="translate(918.3,642.60) scale(1,1.07)" font-size="13" fill="#222" stroke="#222" stroke-width="0.15">Aug-15</text>
<rect x="966.0" y="635.2" width="6" height="6" fill="#999999" stroke="#333" stroke-width="1"/>
<text transform="translate(974.9,642.60) scale(1,1.07)" font-size="13" fill="#222" stroke="#222" stroke-width="0.15">Sep-15</text>
<rect x="1022.6" y="635.2" width="6" height="6" fill="#E0B02A" stroke="#333" stroke-width="1"/>
<text transform="translate(1031.5,642.60) scale(1,1.07)" font-size="13" fill="#222" stroke="#222" stroke-width="0.15">Oct-15</text>
<rect x="1079.2" y="635.2" width="6" height="6" fill="#3F66B0" stroke="#333" stroke-width="1"/>
<text transform="translate(1088.1,642.60) scale(1,1.07)" font-size="13" fill="#222" stroke="#222" stroke-width="0.15">Nov-15</text>
<rect x="1135.8" y="635.2" width="6" height="6" fill="#6A9A50" stroke="#333" stroke-width="1"/>
<text transform="translate(1144.7,642.60) scale(1,1.07)" font-size="13" fill="#222" stroke="#222" stroke-width="0.15">Dec-15</text>
<rect x="173.6" y="658.3" width="6" height="6" fill="#6E9ED4" stroke="#333" stroke-width="1"/>
<text transform="translate(182.5,665.50) scale(1,1.07)" font-size="13" fill="#222" stroke="#222" stroke-width="0.15">Jan-16</text>
<rect x="230.2" y="658.3" width="6" height="6" fill="#E07E3C" stroke="#333" stroke-width="1"/>
<text transform="translate(239.1,665.50) scale(1,1.07)" font-size="13" fill="#222" stroke="#222" stroke-width="0.15">Feb-16</text>
<rect x="286.8" y="658.3" width="6" height="6" fill="#A5A5A5" stroke="#333" stroke-width="1"/>
<text transform="translate(295.7,665.50) scale(1,1.07)" font-size="13" fill="#222" stroke="#222" stroke-width="0.15">Mar-16</text>
<rect x="343.4" y="658.3" width="6" height="6" fill="#F2B81E" stroke="#333" stroke-width="1"/>
<text transform="translate(352.3,665.50) scale(1,1.07)" font-size="13" fill="#222" stroke="#222" stroke-width="0.15">Apr-16</text>
<rect x="400.0" y="658.3" width="6" height="6" fill="#4470C0" stroke="#333" stroke-width="1"/>
<text transform="translate(408.9,665.50) scale(1,1.07)" font-size="13" fill="#222" stroke="#222" stroke-width="0.15">May-16</text>
<rect x="456.6" y="658.3" width="6" height="6" fill="#72A84C" stroke="#333" stroke-width="1"/>
<text transform="translate(465.5,665.50) scale(1,1.07)" font-size="13" fill="#222" stroke="#222" stroke-width="0.15">Jun-16</text>
<rect x="513.2" y="658.3" width="6" height="6" fill="#7EB0E0" stroke="#333" stroke-width="1"/>
<text transform="translate(522.1,665.50) scale(1,1.07)" font-size="13" fill="#222" stroke="#222" stroke-width="0.15">Jul-16</text>
<rect x="569.8" y="658.3" width="6" height="6" fill="#EE8A40" stroke="#333" stroke-width="1"/>
<text transform="translate(578.7,665.50) scale(1,1.07)" font-size="13" fill="#222" stroke="#222" stroke-width="0.15">Aug-16</text>
<rect x="626.4" y="658.3" width="6" height="6" fill="#ABABAB" stroke="#333" stroke-width="1"/>
<text transform="translate(635.3,665.50) scale(1,1.07)" font-size="13" fill="#222" stroke="#222" stroke-width="0.15">Sep-16</text>
<rect x="683.0" y="658.3" width="6" height="6" fill="#FFC010" stroke="#333" stroke-width="1"/>
<text transform="translate(691.9,665.50) scale(1,1.07)" font-size="13" fill="#222" stroke="#222" stroke-width="0.15">Oct-16</text>
<rect x="739.6" y="658.3" width="6" height="6" fill="#4F7ACB" stroke="#333" stroke-width="1"/>
<text transform="translate(748.5,665.50) scale(1,1.07)" font-size="13" fill="#222" stroke="#222" stroke-width="0.15">Nov-16</text>
<rect x="796.2" y="658.3" width="6" height="6" fill="#7DB457" stroke="#333" stroke-width="1"/>
<text transform="translate(805.1,665.50) scale(1,1.07)" font-size="13" fill="#222" stroke="#222" stroke-width="0.15">Dec-16</text>
<rect x="852.8" y="658.3" width="6" height="6" fill="#86B4E2" stroke="#333" stroke-width="1"/>
<text transform="translate(861.7,665.50) scale(1,1.07)" font-size="13" fill="#222" stroke="#222" stroke-width="0.15">Jan-17</text>
<rect x="909.4" y="658.3" width="6" height="6" fill="#F0A074" stroke="#333" stroke-width="1"/>
<text transform="translate(918.3,665.50) scale(1,1.07)" font-size="13" fill="#222" stroke="#222" stroke-width="0.15">Feb-17</text>
<rect x="966.0" y="658.3" width="6" height="6" fill="#BDBDBD" stroke="#333" stroke-width="1"/>
<text transform="translate(974.9,665.50) scale(1,1.07)" font-size="13" fill="#222" stroke="#222" stroke-width="0.15">Mar-17</text>
<rect x="1022.6" y="658.3" width="6" height="6" fill="#DDE4F0" stroke="#333" stroke-width="1"/>
<text transform="translate(1031.5,665.50) scale(1,1.07)" font-size="13" fill="#222" stroke="#222" stroke-width="0.15">Apr-17</text>
<rect x="1079.2" y="658.3" width="6" height="6" fill="#E8E8E4" stroke="#333" stroke-width="1"/>
<text transform="translate(1088.1,665.50) scale(1,1.07)" font-size="13" fill="#222" stroke="#222" stroke-width="0.15">May-17</text>
<rect x="1135.8" y="658.3" width="6" height="6" fill="#FFFFFF" stroke="#333" stroke-width="1"/>
<text transform="translate(1144.7,665.50) scale(1,1.07)" font-size="13" fill="#222" stroke="#222" stroke-width="0.15">Jun-17</text>
<rect x="173.6" y="681.4" width="6" height="6" fill="#F4EEE8" stroke="#333" stroke-width="1"/>
<text transform="translate(182.5,688.40) scale(1,1.07)" font-size="13" fill="#222" stroke="#222" stroke-width="0.15">Jul-17</text>
<rect x="230.2" y="681.4" width="6" height="6" fill="#E6D4D4" stroke="#333" stroke-width="1"/>
<text transform="translate(239.1,688.40) scale(1,1.07)" font-size="13" fill="#222" stroke="#222" stroke-width="0.15">Aug-17</text>
<rect x="286.8" y="681.4" width="6" height="6" fill="#F2F280" stroke="#333" stroke-width="1"/>
<text transform="translate(295.7,688.40) scale(1,1.07)" font-size="13" fill="#222" stroke="#222" stroke-width="0.15">Sep-17</text>
<rect x="343.4" y="681.4" width="6" height="6" fill="#F0B020" stroke="#333" stroke-width="1"/>
<text transform="translate(352.3,688.40) scale(1,1.07)" font-size="13" fill="#222" stroke="#222" stroke-width="0.15">Oct-17</text>
<rect x="400.0" y="681.4" width="6" height="6" fill="#D8E4EC" stroke="#333" stroke-width="1"/>
<text transform="translate(408.9,688.40) scale(1,1.07)" font-size="13" fill="#222" stroke="#222" stroke-width="0.15">Nov-17</text>
<rect x="456.6" y="681.4" width="6" height="6" fill="#80C050" stroke="#333" stroke-width="1"/>
<text transform="translate(465.5,688.40) scale(1,1.07)" font-size="13" fill="#222" stroke="#222" stroke-width="0.15">Dec-17</text>
<rect x="513.2" y="681.4" width="6" height="6" fill="#F6EEE6" stroke="#333" stroke-width="1"/>
<text transform="translate(522.1,688.40) scale(1,1.07)" font-size="13" fill="#222" stroke="#222" stroke-width="0.15">Jan-18</text>
<rect x="569.8" y="681.4" width="6" height="6" fill="#EEEEE2" stroke="#333" stroke-width="1"/>
<text transform="translate(578.7,688.40) scale(1,1.07)" font-size="13" fill="#222" stroke="#222" stroke-width="0.15">Feb-18</text>
<rect x="626.4" y="681.4" width="6" height="6" fill="#EEDCE0" stroke="#333" stroke-width="1"/>
<text transform="translate(635.3,688.40) scale(1,1.07)" font-size="13" fill="#222" stroke="#222" stroke-width="0.15">Mar-18</text>
<rect x="683.0" y="681.4" width="6" height="6" fill="#A8D4D8" stroke="#333" stroke-width="1"/>
<text transform="translate(691.9,688.40) scale(1,1.07)" font-size="13" fill="#222" stroke="#222" stroke-width="0.15">Apr-18</text>
<rect x="739.6" y="681.4" width="6" height="6" fill="#F4F080" stroke="#333" stroke-width="1"/>
<text transform="translate(748.5,688.40) scale(1,1.07)" font-size="13" fill="#222" stroke="#222" stroke-width="0.15">May-18</text>
<rect x="796.2" y="681.4" width="6" height="6" fill="#E0E4EE" stroke="#333" stroke-width="1"/>
<text transform="translate(805.1,688.40) scale(1,1.07)" font-size="13" fill="#222" stroke="#222" stroke-width="0.15">Jun-18</text>
<rect x="852.8" y="681.4" width="6" height="6" fill="#F4F08A" stroke="#333" stroke-width="1"/>
<text transform="translate(861.7,688.40) scale(1,1.07)" font-size="13" fill="#222" stroke="#222" stroke-width="0.15">Jul-18</text>
<rect x="909.4" y="681.4" width="6" height="6" fill="#D8E0F0" stroke="#333" stroke-width="1"/>
<text transform="translate(918.3,688.40) scale(1,1.07)" font-size="13" fill="#222" stroke="#222" stroke-width="0.15">Aug-18</text>
<rect x="966.0" y="681.4" width="6" height="6" fill="#EDE0DC" stroke="#333" stroke-width="1"/>
<text transform="translate(974.9,688.40) scale(1,1.07)" font-size="13" fill="#222" stroke="#222" stroke-width="0.15">Sep-18</text>
<rect x="1022.6" y="681.4" width="6" height="6" fill="#D00000" stroke="#333" stroke-width="1"/>
<text transform="translate(1031.5,688.40) scale(1,1.07)" font-size="13" fill="#222" stroke="#222" stroke-width="0.15">Oct-18</text>
</svg></body></html>
